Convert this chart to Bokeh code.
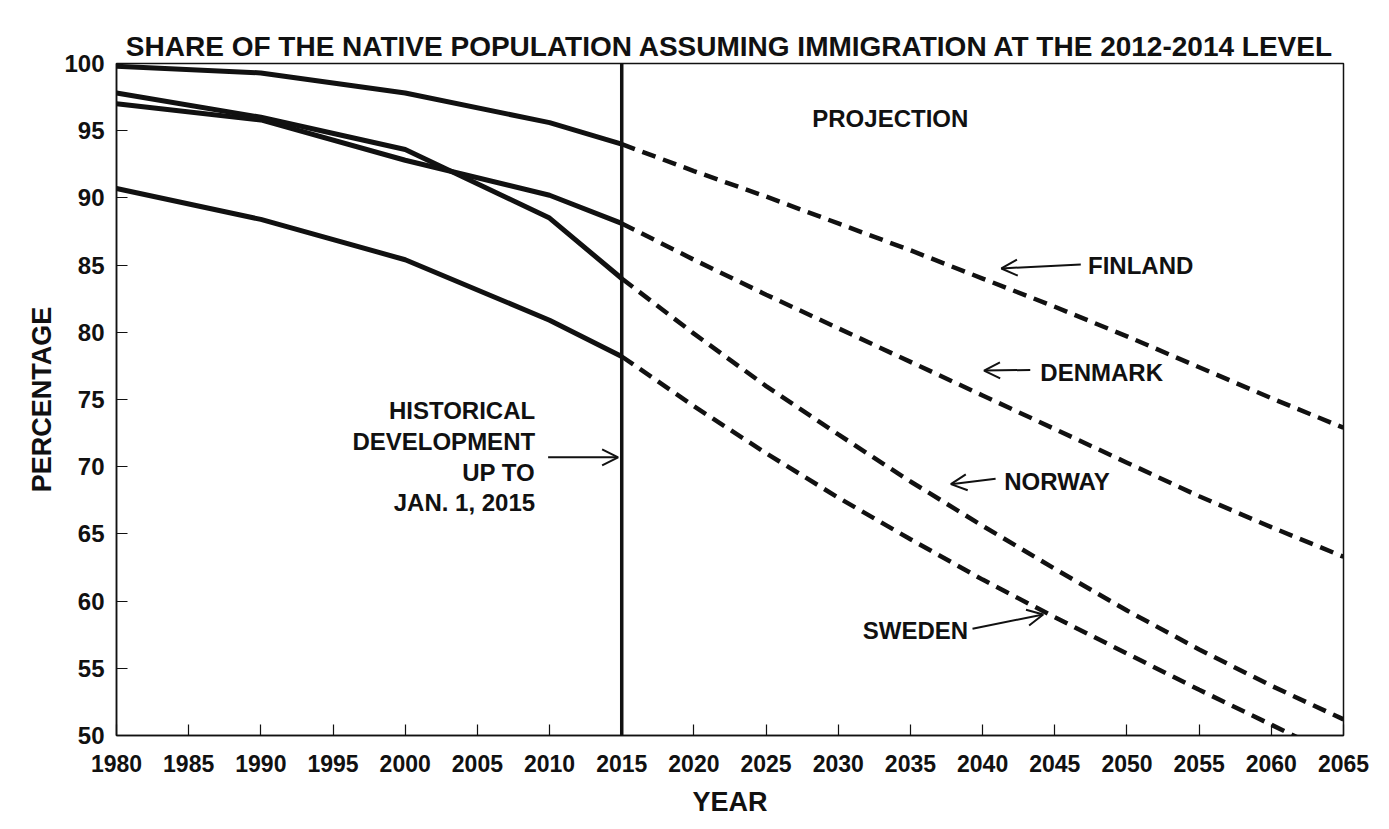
from bokeh.plotting import figure
from bokeh.models import Range1d, FixedTicker, Span, Label, Arrow, OpenHead
from bokeh.embed import file_html
from bokeh.resources import INLINE

# ---------------- data ----------------
hist_years = [1980, 1990, 2000, 2010, 2015]
finland_hist = [99.8, 99.3, 97.8, 95.6, 94.0]
denmark_hist = [97.0, 95.8, 92.8, 90.2, 88.1]
norway_hist = [97.8, 96.0, 93.6, 88.5, 84.0]
sweden_hist = [90.7, 88.4, 85.4, 80.9, 78.2]

proj_years = [2015, 2020, 2025, 2030, 2035, 2040, 2045, 2050, 2055, 2060, 2065]
finland_proj = [94.0, 92.0, 90.1, 88.1, 86.1, 84.0, 81.9, 79.7, 77.4, 75.1, 72.9]
denmark_proj = [88.1, 85.4, 82.8, 80.3, 77.8, 75.3, 72.8, 70.3, 67.8, 65.5, 63.3]
norway_proj = [84.0, 79.9, 76.0, 72.4, 68.9, 65.6, 62.4, 59.3, 56.4, 53.7, 51.2]
sweden_proj = [78.2, 74.5, 71.0, 67.7, 64.6, 61.6, 58.8, 56.1, 53.4, 50.8, 48.2]

x_ticks = list(range(1980, 2066, 5))
y_ticks = list(range(50, 101, 5))
divider_year = 2015

title_text = "SHARE OF THE NATIVE POPULATION ASSUMING IMMIGRATION AT THE 2012-2014 LEVEL"

# label text, x, y, align
country_labels = [
    ("FINLAND", 2047.3, 85.0, "left"),
    ("DENMARK", 2044.0, 77.0, "left"),
    ("NORWAY", 2041.5, 68.9, "left"),
    ("SWEDEN", 2039.0, 57.8, "right"),
]
# arrows: x_start, y_start, x_end, y_end
country_arrows = [
    (2046.8, 85.05, 2041.3, 84.75),
    (2043.3, 77.2, 2040.1, 77.15),
    (2040.9, 69.1, 2037.8, 68.7),
    (2039.3, 57.95, 2044.2, 59.0),
]
hist_lines = ["HISTORICAL", "DEVELOPMENT", "UP TO", "JAN. 1, 2015"]
hist_line_y = [74.2, 71.9, 69.6, 67.3]
hist_text_x = 2009.0
hist_arrow = (2009.9, 70.7, 2014.75, 70.7)
projection_label = ("PROJECTION", 2028.2, 95.9)

FONT = "Liberation Sans"
INK = "#111111"

p = figure(width=1373, height=819,
           x_range=Range1d(1980, 2065), y_range=Range1d(50, 100),
           output_backend="svg", toolbar_location=None,
           min_border_left=116, min_border_right=30,
           min_border_top=63, min_border_bottom=84)

p.background_fill_color = "white"
p.border_fill_color = "white"
p.outline_line_color = INK
p.outline_line_width = 1.5
p.outline_line_alpha = 1.0
p.xgrid.visible = False
p.ygrid.visible = False

p.title.text = title_text
p.title.align = "center"
p.title.text_font = FONT
p.title.text_font_style = "bold"
p.title.text_font_size = "28px"
p.title.text_color = INK
p.title.standoff = 4

for ax in (p.xaxis[0], p.yaxis[0]):
    ax.axis_line_color = INK
    ax.axis_line_width = 1.5
    ax.major_tick_line_color = INK
    ax.major_tick_line_width = 1.2
    ax.major_tick_in = 11
    ax.major_tick_out = 0
    ax.minor_tick_line_color = None
    ax.major_label_text_font = FONT
    ax.major_label_text_font_style = "bold"
    ax.major_label_text_color = INK
    ax.axis_label_text_font = FONT
    ax.axis_label_text_font_style = "bold"
    ax.axis_label_text_color = INK
    ax.axis_label_text_font_size = "27px"

p.xaxis.ticker = FixedTicker(ticks=x_ticks)
p.yaxis.ticker = FixedTicker(ticks=y_ticks)
p.xaxis.major_label_text_font_size = "23px"
p.yaxis.major_label_text_font_size = "24px"
p.xaxis.major_label_standoff = 19
p.yaxis.major_label_standoff = 12
p.xaxis.axis_label = "YEAR"
p.yaxis.axis_label = "PERCENTAGE"
p.xaxis.axis_label_standoff = 12
p.yaxis.axis_label_standoff = 4

# historical (solid) and projected (dashed) lines
for hist in (finland_hist, denmark_hist, norway_hist, sweden_hist):
    p.line(hist_years, hist, line_color=INK, line_width=5, line_join="round")
for proj in (finland_proj, denmark_proj, norway_proj, sweden_proj):
    p.line(proj_years, proj, line_color=INK, line_width=4.5, line_dash="14 8")

p.add_layout(Span(location=divider_year, dimension="height", line_color=INK, line_width=3.5))

def add_label(text, x, y, align):
    p.add_layout(Label(x=x, y=y, text=text, text_font=FONT, text_font_style="bold",
                       text_font_size="24px", text_color=INK,
                       text_align=align, text_baseline="middle"))

for text, x, y, align in country_labels:
    add_label(text, x, y, align)
for (xs, ys, xe, ye) in country_arrows + [hist_arrow]:
    p.add_layout(Arrow(end=OpenHead(size=16, line_width=2, line_color=INK),
                       x_start=xs, y_start=ys, x_end=xe, y_end=ye,
                       line_width=2, line_color=INK))
for text, y in zip(hist_lines, hist_line_y):
    add_label(text, hist_text_x, y, "right")
add_label(projection_label[0], projection_label[1], projection_label[2], "left")

open("out.html", "w").write(file_html(p, INLINE))
